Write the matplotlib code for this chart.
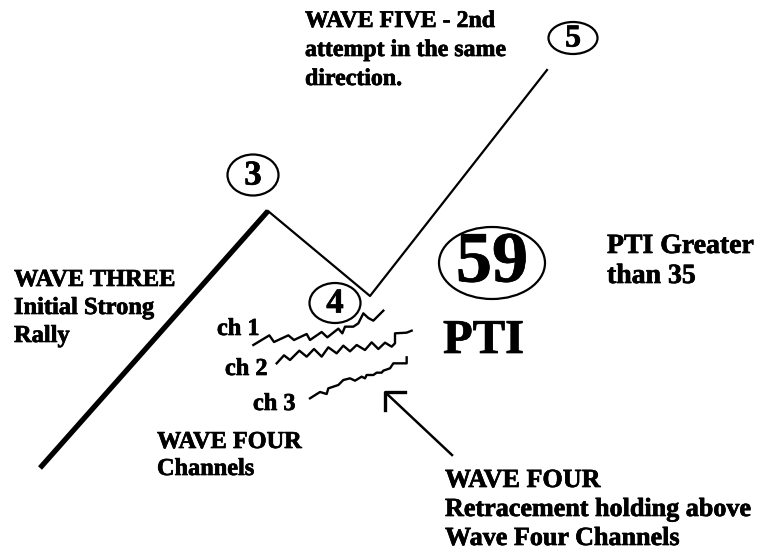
import matplotlib.pyplot as plt
import matplotlib.patheffects as pe
from matplotlib.patches import Ellipse

# wave path (pixel coordinates of the original diagram, y down)
wave3_x = [40, 268]
wave3_y = [468, 211]
wave45_x = [268, 370, 547]
wave45_y = [211, 296, 70]

# channel squiggles, read in 3x zoom units relative to crop origin (210, 280)
ch1_pts = [(130, 195), (178, 166), (192, 186), (235, 166), (252, 180), (290, 162), (300, 180),
           (335, 156), (352, 172), (385, 146), (397, 160), (405, 140), (430, 140), (445, 130),
           (460, 100), (475, 114), (490, 122), (520, 92)]
ch2_pts = [(200, 250), (222, 226), (240, 240), (268, 212), (290, 230), (312, 207), (335, 230),
           (355, 202), (380, 220), (400, 197), (420, 214), (440, 195), (465, 210), (485, 187),
           (505, 207), (525, 188), (545, 200), (555, 190), (555, 160), (590, 158), (605, 152)]
ch3_pts = [(300, 355), (330, 336), (350, 342), (355, 325), (385, 315), (400, 300), (420, 295),
           (435, 302), (455, 290), (465, 295), (470, 285), (490, 285), (500, 278), (515, 278),
           (520, 272), (540, 265), (550, 250), (590, 250), (590, 232)]

# circled labels: (text, cx, cy, w, h, fontsize)
circles = [("3", 253, 175, 51, 41, 25),
           ("4", 335, 303, 51, 40, 25),
           ("5", 573, 38, 49, 32, 23),
           ("59", 492, 263, 106, 72, 52)]

# text blocks: (lines, left x, first baseline y, line step, fontsize)
blocks = [(["WAVE THREE", "Initial Strong", "Rally"], 14, 286, 28, 17.6),
          (["WAVE FIVE - 2nd", "attempt in the same", "direction."], 305, 27, 29, 17.2),
          (["WAVE FOUR", "Channels"], 157, 448, 27, 17.5),
          (["WAVE FOUR", "Retracement holding above", "Wave Four Channels"], 445, 487, 29, 18.8),
          (["PTI Greater", "than 35"], 607, 253, 30, 20),
          (["ch 1"], 217, 335, 0, 17.5),
          (["ch 2"], 225, 375, 0, 17.5),
          (["ch 3"], 253, 410, 0, 17.5),
          (["PTI"], 443, 353, 0, 35)]

font = "Liberation Serif"
heavy = [pe.withStroke(linewidth=0.5, foreground="black")]

fig = plt.figure(figsize=(7.6, 5.54), dpi=100)
ax = fig.add_axes([0, 0, 1, 1])
ax.set_xlim(0, 760)
ax.set_ylim(554, 0)
ax.axis("off")

ax.plot(wave3_x, wave3_y, color="black", lw=3.8, solid_capstyle="butt")
ax.plot(wave45_x, wave45_y, color="black", lw=1.6)

for pts in (ch1_pts, ch2_pts, ch3_pts):
    xs = [210 + p[0] / 3 for p in pts]
    ys = [280 + p[1] / 3 for p in pts]
    ax.plot(xs, ys, color="black", lw=1.7)

for label, cx, cy, w, h, fs in circles:
    ax.add_patch(Ellipse((cx, cy), w, h, fill=False, ec="black", lw=1.6))
    ax.text(cx, cy + 1, label, ha="center", va="center", fontsize=fs,
            fontweight="bold", family=font, path_effects=heavy)

# arrow pointing up-left toward the channels
ax.plot([452, 386], [455, 393], color="black", lw=1.8)
ax.plot([405, 385, 385], [392, 392, 410], color="black", lw=2.4)

for lines, x, y0, step, fs in blocks:
    for i, line in enumerate(lines):
        ax.text(x, y0 + i * step, line, ha="left", va="baseline", fontsize=fs,
                fontweight="bold", family=font, path_effects=heavy)

fig.savefig("out.png", dpi=100)
